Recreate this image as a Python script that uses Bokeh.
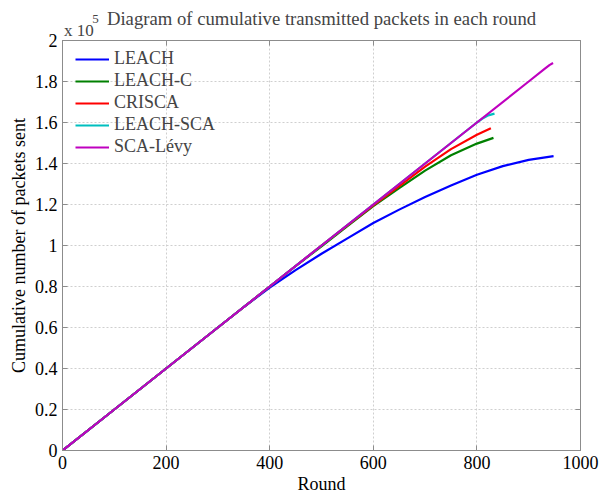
from bokeh.plotting import figure
from bokeh.models import (Range1d, FixedTicker, LinearAxis, Legend, LegendItem,
                          Label, CustomJSTickFormatter)
from bokeh.embed import file_html
from bokeh.resources import INLINE

# ---------------- data ----------------
leach_x = [0, 100, 200, 300, 350, 400, 450, 500, 550, 600, 650, 700, 750, 800, 850, 900, 948]
leach_y = [0, 20000, 40000, 60000, 70000, 79500, 88000, 96000, 103500, 111000, 117500,
           123700, 129300, 134500, 138700, 141800, 143600]

leachc_x = [0, 100, 200, 300, 400, 450, 500, 550, 600, 650, 700, 750, 800, 832]
leachc_y = [0, 20000, 40000, 60000, 80000, 89900, 99600, 109400, 119200, 128000,
            136500, 144000, 149700, 152500]

crisca_x = [0, 100, 200, 300, 400, 450, 500, 550, 600, 650, 700, 750, 800, 827]
crisca_y = [0, 20000, 40000, 60000, 80000, 90000, 100000, 109800, 119600, 129000,
            138500, 147000, 154000, 157200]

leachsca_x = [0, 100, 200, 300, 400, 500, 600, 700, 800, 810, 822, 834]
leachsca_y = [0, 20000, 40000, 60000, 80000, 100000, 120000, 140000, 160000, 161800,
              163500, 164300]

scalevy_x = [0, 100, 200, 300, 400, 500, 600, 700, 800, 900, 930, 940, 947]
scalevy_y = [0, 20000, 40000, 60000, 80000, 100000, 120000, 140000, 160000, 180000,
             186000, 188000, 189000]

series_names = ["LEACH", "LEACH-C", "CRISCA", "LEACH-SCA", "SCA-L\u00e9vy"]
series_colors = ["#0000ff", "#008000", "#ff0000", "#00bfbf", "#bf00bf"]
series_x = [leach_x, leachc_x, crisca_x, leachsca_x, scalevy_x]
series_y = [leach_y, leachc_y, crisca_y, leachsca_y, scalevy_y]

x_ticks = [0, 200, 400, 600, 800, 1000]
y_ticks = [0, 20000, 40000, 60000, 80000, 100000, 120000, 140000, 160000, 180000, 200000]
y_tick_labels = ["0", "0.2", "0.4", "0.6", "0.8", "1", "1.2", "1.4", "1.6", "1.8", "2"]

title_text = "Diagram of cumulative transmitted packets in each round"
exp_text = "x 10"
exp_power = "5"

FONT = "Liberation Serif"
BOX = "#8c8c8c"
FS = "18px"

p = figure(width=613, height=496, output_backend="svg", toolbar_location=None,
           x_range=Range1d(0, 1000), y_range=Range1d(0, 200000),
           min_border_left=62, min_border_right=33, min_border_top=40, min_border_bottom=45)
p.background_fill_color = "white"
p.border_fill_color = "white"
p.outline_line_color = BOX
p.outline_line_width = 1

renderers = []
for xs, ys, c in zip(series_x, series_y, series_colors):
    r = p.line(xs, ys, line_color=c, line_width=2.2)
    renderers.append(r)

# axes
for ax in (p.xaxis[0], p.yaxis[0]):
    ax.axis_line_color = BOX
    ax.major_tick_line_color = BOX
    ax.major_tick_in = 5
    ax.major_tick_out = 0
    ax.minor_tick_line_color = None
    ax.major_label_text_font = FONT
    ax.major_label_text_font_size = FS
    ax.major_label_text_color = "black"
    ax.axis_label_text_font = FONT
    ax.axis_label_text_font_size = FS
    ax.axis_label_text_font_style = "normal"
    ax.axis_label_text_color = "black"

p.xaxis[0].ticker = FixedTicker(ticks=x_ticks)
p.yaxis[0].ticker = FixedTicker(ticks=y_ticks)
p.yaxis[0].major_label_overrides = {t: s for t, s in zip(y_ticks, y_tick_labels)}
p.xaxis[0].axis_label = "Round"
p.yaxis[0].axis_label = "Cumulative number of packets sent"
p.xaxis[0].major_label_standoff = 5
p.yaxis[0].major_label_standoff = 5
p.xaxis[0].axis_label_standoff = 2
p.yaxis[0].axis_label_standoff = 3

# mirrored box ticks
blank = CustomJSTickFormatter(code="return ''")
top_ax = LinearAxis(ticker=FixedTicker(ticks=x_ticks), formatter=blank)
right_ax = LinearAxis(ticker=FixedTicker(ticks=y_ticks), formatter=blank)
for ax in (top_ax, right_ax):
    ax.axis_line_color = BOX
    ax.major_tick_line_color = BOX
    ax.major_tick_in = 5
    ax.major_tick_out = 0
    ax.minor_tick_line_color = None
    ax.major_label_text_font_size = "1px"
    ax.major_label_standoff = 0
p.add_layout(top_ax, "above")
p.add_layout(right_ax, "right")

# grid
p.xgrid.ticker = FixedTicker(ticks=x_ticks)
p.ygrid.ticker = FixedTicker(ticks=y_ticks)
for g in (p.xgrid[0], p.ygrid[0]):
    g.grid_line_color = "#cfcfcf"
    g.grid_line_dash = "2 2"
    g.grid_line_width = 1

# legend
items = [LegendItem(label=n, renderers=[r]) for n, r in zip(series_names, renderers)]
legend = Legend(items=items, location=(13, 293))
legend.border_line_alpha = 0
legend.background_fill_alpha = 0
legend.padding = 0
legend.margin = 0
legend.spacing = 1
legend.glyph_width = 34
legend.glyph_height = 20
legend.label_height = 20
legend.label_standoff = 5
legend.label_text_font = FONT
legend.label_text_font_size = FS
legend.label_text_baseline = "middle"
p.add_layout(legend, "center")

# title and exponent, placed in side panels (positions given in axis units, above the box)
p.add_layout(Label(x=500, y=210900, text=title_text, text_font=FONT,
                   text_font_size="18.7px", text_align="center",
                   text_baseline="alphabetic"), "above")
p.add_layout(Label(x=57.5, y=210700, text=exp_power, text_font=FONT,
                   text_font_size="13px", text_baseline="alphabetic"), "above")
p.add_layout(Label(x=3.0, y=205100, text=exp_text, text_font=FONT,
                   text_font_size="17px", text_baseline="alphabetic"), "right")

open("out.html", "w").write(file_html(p, INLINE))
